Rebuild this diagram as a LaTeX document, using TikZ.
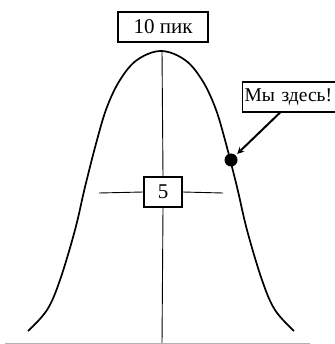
\documentclass[tikz,border=0pt]{standalone}
\usepackage{fontspec}
\setmainfont{Liberation Serif}
\begin{document}
\begin{tikzpicture}[x=1pt, y=-1pt, every node/.style={font=\fontsize{21}{25}\selectfont}]
        \tikzstyle{tag} = [draw, line width=1.3pt, rectangle, minimum height=30pt, inner sep=1pt, fill=white]
        \useasboundingbox (0,0) rectangle (334,344);
        % bell curve
        \draw[line width=1.7pt] plot[smooth, tension=0.6] coordinates {(28,331) (47,310) (60,280) (75,230) (85,187) (97,140) (107,107) (120,80) (137,60) (161,51) (185,60) (202,80) (215,107) (225,140) (237,187) (247,230) (262,280) (275,310) (294,331)};
        \coordinate (peak) at (162, 51);
        \coordinate (foot) at (162, 344);
        \coordinate (hl) at (99, 193);
        \coordinate (hr) at (223, 193);
        \node[tag, minimum width=90pt] (pik) at (163, 27) {10 пик};
        \node[tag, minimum width=38pt] (five) at (163, 192) {5};
        \node[tag, minimum width=94pt, anchor=west, text width=90pt, font=\fontsize{19.5}{24}\selectfont] (here) at (242, 97) {Мы здесь!};
        \node[circle, fill, inner sep=0pt, minimum size=13pt] (dot) at (231, 160) {};
        \draw[line width=0.9pt] (peak) -- (five.north);
        \draw[line width=0.9pt] (five.south) -- (foot);
        \draw[line width=0.9pt] (hl) -- (five.west);
        \draw[line width=0.9pt] (five.east) -- (hr);
        \draw[->, >=stealth, line width=2pt, shorten >=2pt] (here.south -| 280, 0) -- (dot.north east);
        % faint base line
        \draw[gray!60, line width=1pt] (5, 343) -- (310, 343);
      \end{tikzpicture}
\end{document}
